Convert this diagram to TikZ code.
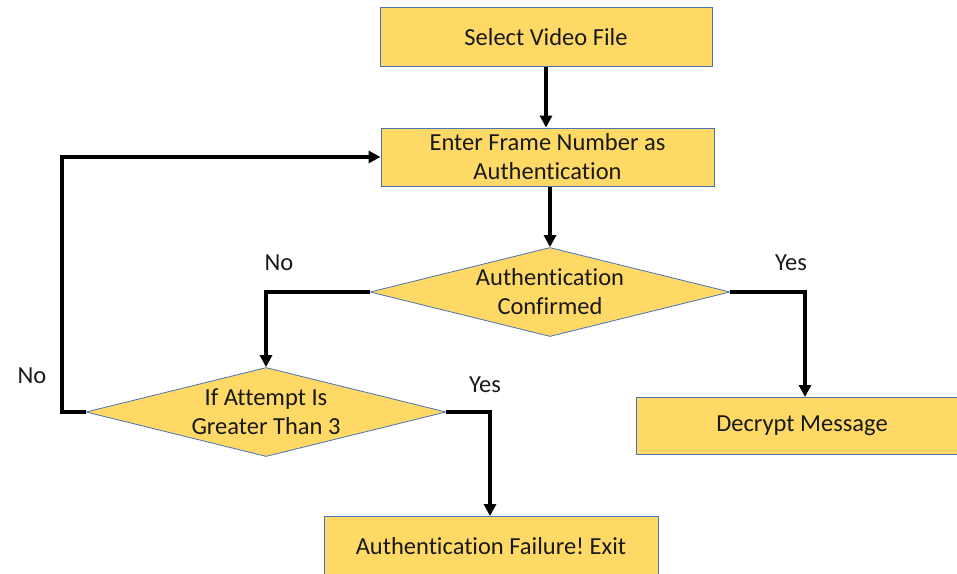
\documentclass[tikz,border=0pt]{standalone}
\usepackage{fontspec}
\setmainfont[Ligatures=NoCommon]{Carlito}
\usetikzlibrary{shapes.geometric,arrows.meta}
\definecolor{boxfill}{HTML}{FFD966}
\definecolor{boxline}{HTML}{4A72B8}
\frenchspacing
\tikzset{
  txt/.style={font=\fontsize{24.5}{29}\selectfont\frenchspacing, text=black!90, align=center},
  procbox/.style={draw=boxline, line width=1pt, fill=boxfill, minimum width=332pt, minimum height=59pt, inner sep=0pt, txt},
  dia/.style={diamond, draw=boxline, line width=0.8pt, fill=boxfill, minimum width=360pt, minimum height=89pt, inner sep=0pt},
  flow/.style={line width=3.8pt, -{Triangle[length=12pt,width=12pt]}},
  lbl/.style={txt, inner sep=0pt}
}
\begin{document}
\begin{tikzpicture}[x=1pt,y=-1pt]
\clip (0,0) rectangle (957,573);
\fill[white] (0,0) rectangle (957,573);
\node[procbox] (sel) at (546,37) {Select Video File};
\node[procbox, minimum width=333pt, minimum height=58pt] (ent) at (547.5,157) {Enter Frame Number as\\Authentication};
\node[dia] (d1) at (550,292) {};
\node[txt] at (d1) {Authentication\\Confirmed};
\node[dia] (d2) at (266,412) {};
\node[txt] at (d2) {If Attempt Is\\Greater Than 3};
\node[procbox, minimum height=57pt] (dec) at (802,425.5) {Decrypt Message};
\node[procbox, minimum width=334pt, minimum height=60pt] (fail) at (491,546) {Authentication Failure! Exit};
\draw[flow] (sel.south) -- (sel.south |- ent.north);
\draw[flow] (d1.north |- ent.south) -- (d1.north);
\draw[flow] (d1.west) -| (d2.north);
\draw[flow] (d1.east) -| (805,397);
\draw[flow] (d2.east) -| (490,516);
\draw[flow] (d2.west) -- (62,412) |- (ent.west);
\node[lbl] (n1) at (279,263) {No};
\node[lbl] (y1) at (791,263) {Yes};
\node[lbl] (n2) at (32,376) {No};
\node[lbl] (y2) at (485,385) {Yes};
\end{tikzpicture}
\end{document}
